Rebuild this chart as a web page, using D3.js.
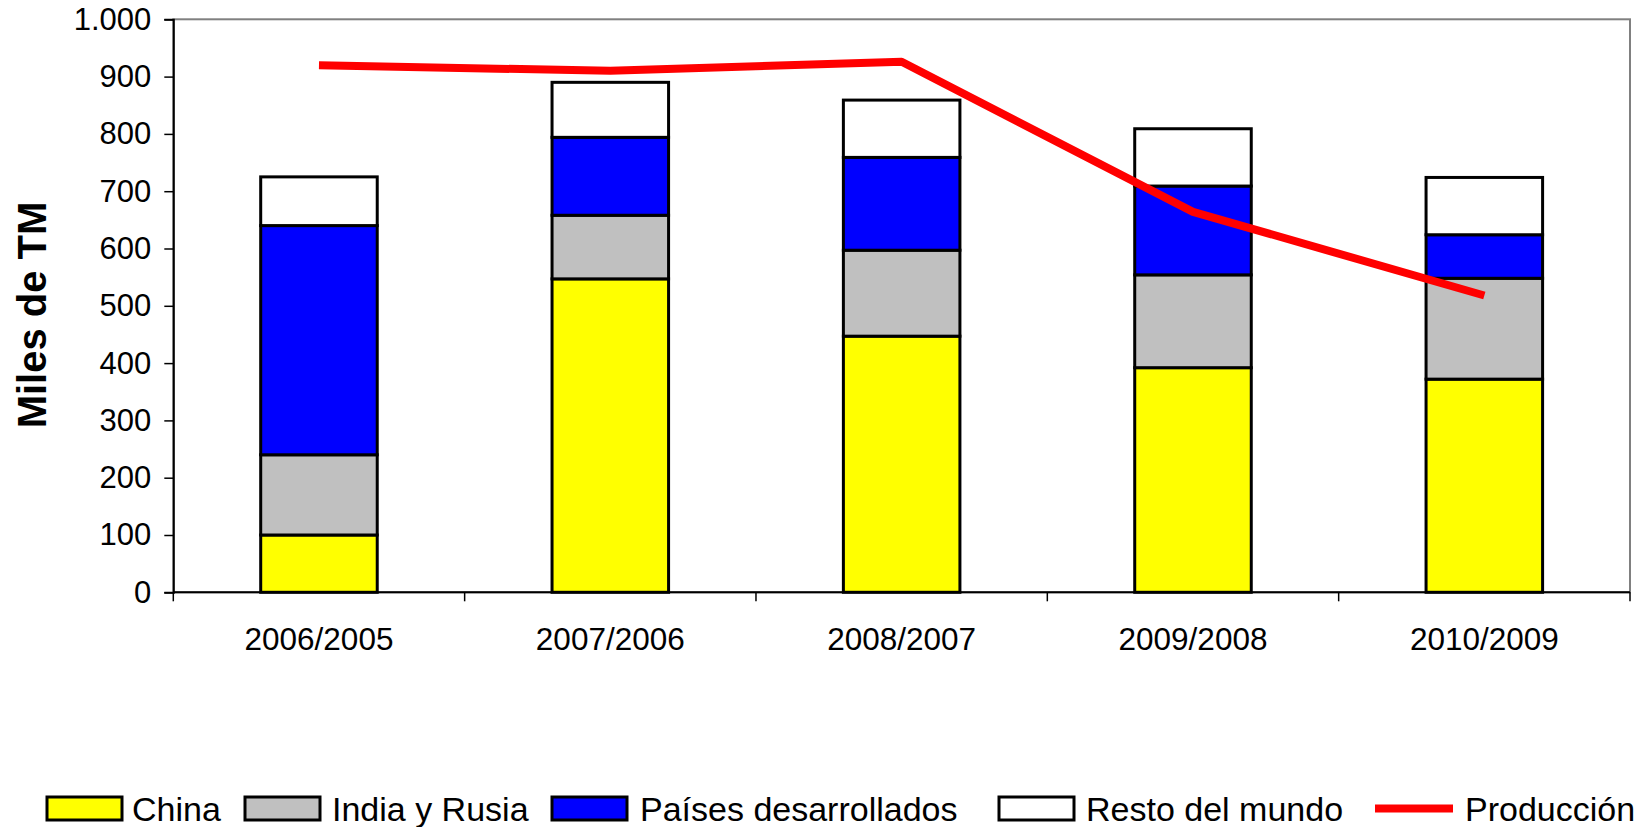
<!DOCTYPE html>
<html><head><meta charset="utf-8">
<script src="https://cdn.jsdelivr.net/npm/d3@7"></script>
<style>
body{margin:0;background:#fff;}
svg{display:block;font-family:"Liberation Sans",Arial,sans-serif;}
</style></head>
<body>
<svg id="c" width="1649" height="827"></svg>
<script>
const categories = ["2006/2005","2007/2006","2008/2007","2009/2008","2010/2009"];
const seriesNames = ["China","India y Rusia","Países desarrollados","Resto del mundo"];
const china = [100, 547, 447, 392, 372];
const indiaRusia = [140, 111, 150, 162, 176];
const desarrollados = [400, 136, 162, 155, 76];
const resto = [85, 96, 100, 100, 100];
const produccion = [920, 910, 926, 664, 518];
const yTicks = [0,100,200,300,400,500,600,700,800,900,1000];
const colors = ["#FFFF00","#C0C0C0","#0000FF","#FFFFFF"];

const svg = d3.select("#c");
const L = 173.3, R = 1630, T = 19.3, B = 592.3;
const x = d3.scaleBand().domain(categories).range([L, R]).paddingInner(0.6).paddingOuter(0.3);
const y = d3.scaleLinear().domain([0, 1000]).range([B, T]);
const loc = d3.formatLocale({decimal:",", thousands:".", grouping:[3], currency:["",""]});
const fmt = loc.format(",d");

// plot border
svg.append("rect").attr("x", L).attr("y", T).attr("width", R - L).attr("height", B - T)
  .attr("fill", "none").attr("stroke", "#808080").attr("stroke-width", 2);

// stacked data
const table = categories.map((c, i) => ({cat: c, "China": china[i], "India y Rusia": indiaRusia[i],
  "Países desarrollados": desarrollados[i], "Resto del mundo": resto[i]}));
const stack = d3.stack().keys(seriesNames)(table);

svg.append("g").selectAll("g").data(stack).join("g")
  .attr("fill", (d, i) => colors[i])
  .selectAll("rect").data(d => d).join("rect")
  .attr("x", d => x(d.data.cat))
  .attr("width", x.bandwidth())
  .attr("y", d => y(d[1]))
  .attr("height", d => y(d[0]) - y(d[1]))
  .attr("stroke", "#000").attr("stroke-width", 3);

// y axis
const yAxis = svg.append("g").attr("transform", `translate(${L},0)`)
  .call(d3.axisLeft(y).tickValues(yTicks).tickFormat(fmt).tickSize(9).tickPadding(13));
yAxis.select(".domain").attr("stroke", "#000").attr("stroke-width", 2);
yAxis.selectAll(".tick line").attr("stroke", "#000").attr("stroke-width", 1.5);
yAxis.selectAll("text").attr("font-size", 31).attr("fill", "#000")
  .attr("font-family", "'Liberation Sans',Arial,sans-serif");

// x axis
const step = x.step();
const bounds = categories.map(c => x(c) - step * 0.3).concat([x(categories[categories.length-1]) + x.bandwidth() + step * 0.3]);
const xg = svg.append("g");
xg.append("line").attr("x1", L).attr("x2", R).attr("y1", B).attr("y2", B).attr("stroke", "#000").attr("stroke-width", 2);
xg.selectAll("line.t").data(bounds).join("line").attr("class", "t")
  .attr("x1", d => d).attr("x2", d => d).attr("y1", B).attr("y2", B + 9)
  .attr("stroke", "#000").attr("stroke-width", 1.5);
xg.selectAll("text").data(categories).join("text")
  .attr("x", d => x(d) + x.bandwidth() / 2).attr("y", 650)
  .attr("text-anchor", "middle").attr("font-size", 31.5).attr("fill", "#000").text(d => d);

// production line
const line = d3.line().x((d, i) => x(categories[i]) + x.bandwidth() / 2).y(d => y(d));
svg.append("path").datum(produccion).attr("d", line)
  .attr("fill", "none").attr("stroke", "#FF0000").attr("stroke-width", 8).attr("stroke-linejoin", "round");

// y title
svg.append("text").attr("transform", `translate(46,315) rotate(-90)`)
  .attr("text-anchor", "middle").attr("font-size", 40).attr("font-weight", "bold").text("Miles de TM");

// legend
const legendItems = [
  {name: "China", sx: 47, tx: 132, type: "rect", color: colors[0]},
  {name: "India y Rusia", sx: 245, tx: 332, type: "rect", color: colors[1]},
  {name: "Países desarrollados", sx: 552, tx: 640, type: "rect", color: colors[2]},
  {name: "Resto del mundo", sx: 999, tx: 1086, type: "rect", color: colors[3]},
  {name: "Producción", sx: 1375, tx: 1465, type: "line", color: "#FF0000"}
];
const lg = svg.append("g");
legendItems.forEach(it => {
  if (it.type === "rect") {
    lg.append("rect").attr("x", it.sx).attr("y", 797).attr("width", 75).attr("height", 23)
      .attr("fill", it.color).attr("stroke", "#000").attr("stroke-width", 3);
  } else {
    lg.append("line").attr("x1", it.sx).attr("x2", it.sx + 78).attr("y1", 808.5).attr("y2", 808.5)
      .attr("stroke", it.color).attr("stroke-width", 8);
  }
  lg.append("text").attr("x", it.tx).attr("y", 821).attr("font-size", 34).attr("fill", "#000").text(it.name);
});
</script>
</body></html>
